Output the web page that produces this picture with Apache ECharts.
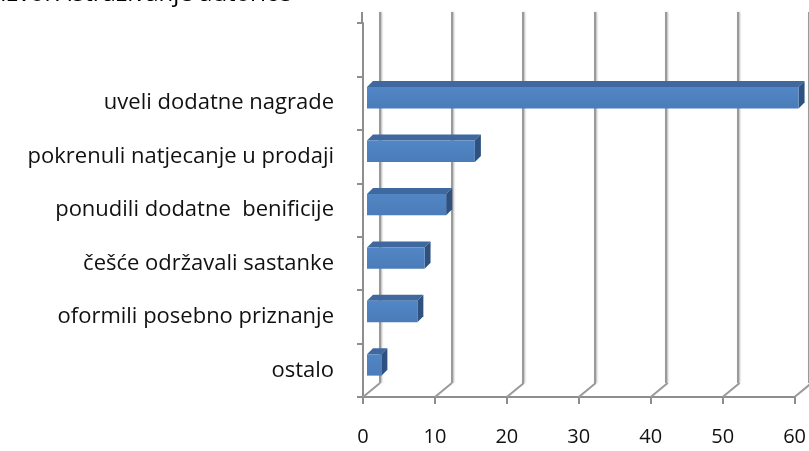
<!DOCTYPE html>
<html lang="hr">
<head>
    <meta charset="UTF-8">
    <title>Motivacija prodajnog osoblja</title>
    <script src="https://cdn.jsdelivr.net/npm/echarts@6/dist/echarts.min.js"></script>
</head>
<body style="margin: 0; background: #fff;">
<div id="container" style="width: 809px; height: 451px;"></div>
<script type="text/javascript">

    // kategorije odozdo prema gore (zadnja je prazna, kao u originalu)
    let categories = ['ostalo', 'oformili posebno priznanje', 'češće održavali sastanke',
        'ponudili dodatne  benificije', 'pokrenuli natjecanje u prodaji', 'uveli dodatne nagrade', ''];
    let values = [2, 7, 8, 11, 15, 60, '-'];
    let xTicks = [0, 10, 20, 30, 40, 50, 60];
    let sourceText = 'Izvor: istraživanje autorice';

    // "3D" pomak zida i dubina stupca
    let wallDx = 17, wallDy = -14;
    let barDx = 6, barDy = -6;

    let dom = document.getElementById('container');
    let myChart = echarts.init(dom);
    let font = '"Open Sans", "Noto Sans", sans-serif';

    let option = {
        animation: false,
        graphic: [{
            type: 'text',
            left: 0,
            top: -18,
            style: {
                text: sourceText,
                font: '24px ' + font,
                fill: '#000'
            }
        }],
        grid: [
            {left: 363, right: 14, top: 23, bottom: 54},
            {left: 380, width: 432, top: 12, bottom: 68}
        ],
        xAxis: [{
            type: 'value',
            gridIndex: 0,
            min: xTicks[0],
            max: xTicks[xTicks.length - 1],
            interval: 10,
            axisLine: {show: true, lineStyle: {color: '#8e8e8e', width: 2}},
            axisTick: {show: true, length: 7, lineStyle: {color: '#8e8e8e', width: 2}},
            axisLabel: {margin: 30, fontSize: 20, fontFamily: font, color: '#111'},
            splitLine: {show: false}
        }, {
            type: 'value',
            gridIndex: 1,
            min: xTicks[0],
            max: xTicks[xTicks.length - 1],
            interval: 10,
            axisLine: {show: false},
            axisTick: {show: false},
            axisLabel: {show: false},
            splitLine: {
                show: true,
                lineStyle: {color: '#9a9a9a', width: 2, shadowColor: 'rgba(0,0,0,0.3)', shadowBlur: 2, shadowOffsetX: 1}
            }
        }],
        yAxis: [{
            type: 'category',
            gridIndex: 0,
            data: categories,
            axisLine: {show: true, lineStyle: {color: '#8e8e8e', width: 2}},
            axisTick: {show: true, length: 6, lineStyle: {color: '#8e8e8e', width: 2}},
            axisLabel: {margin: 29, fontSize: 22, fontFamily: font, color: '#111'}
        }, {
            type: 'category',
            gridIndex: 1,
            data: categories,
            show: false
        }],
        series: [{
            // pod: kose linije od prednje osi prema zidu
            type: 'custom',
            xAxisIndex: 0,
            yAxisIndex: 0,
            silent: true,
            data: xTicks.map(function (t) { return [t, 0]; }),
            renderItem: function (params, api) {
                let cs = params.coordSys;
                let x = api.coord([api.value(0), 0])[0];
                let bottom = cs.y + cs.height;
                let children = [{
                    type: 'line',
                    shape: {x1: x, y1: bottom, x2: x + wallDx, y2: bottom + wallDy},
                    style: {stroke: '#9a9a9a', lineWidth: 2}
                }];
                if (params.dataIndex === 0) {
                    children.push({
                        type: 'line',
                        shape: {x1: x - 1, y1: cs.y, x2: x - 1, y2: cs.y - 11},
                        style: {stroke: '#8e8e8e', lineWidth: 2}
                    });
                }
                return {type: 'group', children: children};
            },
            z: 1
        }, {
            type: 'custom',
            name: 'odgovori',
            xAxisIndex: 0,
            yAxisIndex: 0,
            data: values.map(function (v, i) { return [v, i]; }),
            renderItem: function (params, api) {
                let v = api.value(0);
                if (isNaN(v)) return;
                let idx = api.value(1);
                let start = api.coord([0, idx]);
                let end = api.coord([v, idx]);
                let slot = api.size([0, 1])[1];
                let x0 = start[0] + 4;
                let x1 = end[0] + 4;
                let faceH = slot * 0.4;
                let yTop = start[1] - slot * 0.1 - faceH / 2;
                let yBot = yTop + faceH;
                return {
                    type: 'group',
                    children: [{
                        type: 'polygon',
                        shape: {points: [[x0, yTop], [x0 + barDx, yTop + barDy], [x1 + barDx, yTop + barDy], [x1, yTop]]},
                        style: {fill: '#3f689f'}
                    }, {
                        type: 'polygon',
                        shape: {points: [[x1, yTop], [x1 + barDx, yTop + barDy], [x1 + barDx, yBot + barDy], [x1, yBot]]},
                        style: {fill: '#2f5180'}
                    }, {
                        type: 'rect',
                        shape: {x: x0, y: yTop, width: x1 - x0, height: faceH},
                        style: {
                            fill: new echarts.graphic.LinearGradient(0, 0, 0, 1, [
                                {offset: 0, color: '#5286c4'},
                                {offset: 1, color: '#4a7cb9'}
                            ])
                        }
                    }]
                };
            },
            z: 3
        }]
    };
    myChart.setOption(option, true);

</script>
</body>
</html>
